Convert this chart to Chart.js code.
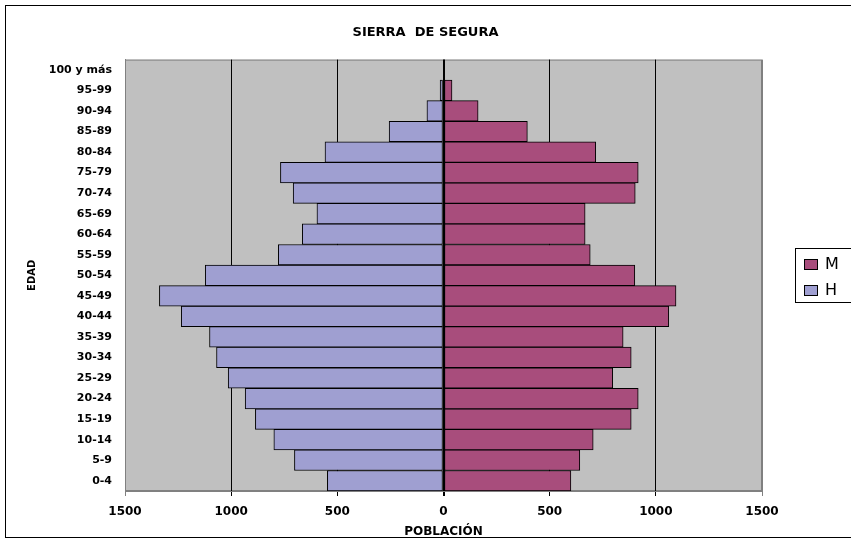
<!DOCTYPE html>
<html>
<head>
<meta charset="utf-8">
<script src="https://cdn.jsdelivr.net/npm/chart.js@4/dist/chart.umd.min.js"></script>
<style>
  html, body { margin: 0; padding: 0; background: #fff; }
  #wrap { width: 851px; height: 549px; }
</style>
</head>
<body>
<div id="wrap"><canvas id="pyramid" width="851" height="549"></canvas></div>
<script>
const ageGroups = ["0-4", "5-9", "10-14", "15-19", "20-24", "25-29", "30-34", "35-39", "40-44", "45-49",
  "50-54", "55-59", "60-64", "65-69", "70-74", "75-79", "80-84", "85-89", "90-94", "95-99", "100 y más"];
const hombres = [547, 702, 799, 886, 934, 1014, 1069, 1102, 1235, 1338, 1122, 778, 665, 596, 708, 768, 558, 256, 78, 16, 0];
const mujeres = [600, 642, 705, 884, 917, 797, 884, 846, 1061, 1095, 901, 691, 667, 667, 903, 917, 717, 395, 163, 40, 0];
const xTicks = [-1500, -1000, -500, 0, 500, 1000, 1500];

const FONT = "'DejaVu Sans', sans-serif";

// frame, grey plot area and the boxed legend on the right
const excelLook = {
  id: "excelLook",
  beforeDraw(chart) {
    const { ctx, chartArea: a } = chart;
    ctx.save();
    ctx.fillStyle = "#fff";
    ctx.fillRect(0, 0, chart.width, chart.height);
    ctx.strokeStyle = "#000";
    ctx.lineWidth = 1;
    ctx.strokeRect(5.5, 5.5, chart.width - 3, 532);
    ctx.fillStyle = "#c0c0c0";
    ctx.fillRect(a.left, a.top, a.right - a.left, a.bottom - a.top);
    ctx.strokeStyle = "#808080";
    ctx.strokeRect(a.left + 0.5, a.top + 0.5, a.right - a.left - 1, a.bottom - a.top - 1);
    ctx.restore();
  },
  afterDraw(chart) {
    const { ctx } = chart;
    const items = chart.data.datasets.slice().reverse();
    ctx.save();
    ctx.fillStyle = "#fff";
    ctx.fillRect(795, 248, 60, 54);
    ctx.strokeStyle = "#000";
    ctx.lineWidth = 1;
    ctx.strokeRect(795.5, 248.5, 60, 54);
    ctx.font = "16px " + FONT;
    ctx.textBaseline = "middle";
    items.forEach((ds, i) => {
      const y = 264 + i * 26;
      ctx.fillStyle = ds.backgroundColor;
      ctx.fillRect(804, y - 5, 14, 11);
      ctx.strokeStyle = "#000";
      ctx.strokeRect(804.5, y - 4.5, 13, 10);
      ctx.fillStyle = "#000";
      ctx.fillText(ds.label, 825, y + 1);
    });
    ctx.restore();
  },
};

new Chart(document.getElementById("pyramid"), {
  type: "bar",
  data: {
    labels: ageGroups,
    datasets: [
      { label: "H", data: hombres.map((v) => -v), backgroundColor: "#9f9fd1" },
      { label: "M", data: mujeres, backgroundColor: "#a84d7c" },
    ],
  },
  options: {
    indexAxis: "y",
    responsive: false,
    animation: false,
    layout: { padding: 0 },
    datasets: {
      bar: {
        barPercentage: 1,
        categoryPercentage: 1,
        borderColor: "#000",
        borderWidth: 1,
        borderSkipped: false,
      },
    },
    plugins: {
      legend: { display: false },
      tooltip: { enabled: false },
      title: {
        display: true,
        text: "SIERRA  DE SEGURA",
        color: "#000",
        font: { family: FONT, size: 13, weight: "bold" },
        padding: { top: 25, bottom: 19 },
      },
    },
    scales: {
      x: {
        stacked: true,
        min: -1500,
        max: 1500,
        afterBuildTicks: (scale) => {
          scale.ticks = xTicks.map((v) => ({ value: v }));
        },
        afterFit: (scale) => {
          scale.height = 58;
        },
        ticks: {
          color: "#000",
          padding: 9,
          font: { family: FONT, size: 12, weight: "bold" },
          callback: (v) => Math.abs(v),
        },
        grid: {
          color: (c) => (Math.abs(c.tick.value) === 1500 ? "#808080" : "#000"),
          lineWidth: (c) => (c.tick.value === 0 ? 2 : 1),
          tickLength: 5,
        },
        border: { color: "#808080" },
        title: {
          display: true,
          text: "POBLACIÓN",
          color: "#000",
          font: { family: FONT, size: 12, weight: "bold" },
          padding: { top: 4, bottom: 10 },
        },
      },
      y: {
        stacked: true,
        reverse: true,
        afterFit: (scale) => {
          scale.width = 125;
        },
        ticks: {
          color: "#000",
          padding: 5,
          autoSkip: false,
          font: { family: FONT, size: 11, weight: "bold" },
        },
        grid: { display: false },
        border: { color: "#808080" },
        title: {
          display: true,
          text: "EDAD",
          color: "#000",
          font: { family: FONT, size: 10, weight: "bold" },
          padding: { top: 26, bottom: 0 },
        },
      },
      // empty strip on the right that keeps room for the legend box
      legendRoom: {
        type: "category",
        position: "right",
        ticks: { display: false },
        grid: { display: false },
        border: { display: false },
        afterFit: (scale) => {
          scale.width = 89;
        },
      },
    },
  },
  plugins: [excelLook],
});
</script>
</body>
</html>
